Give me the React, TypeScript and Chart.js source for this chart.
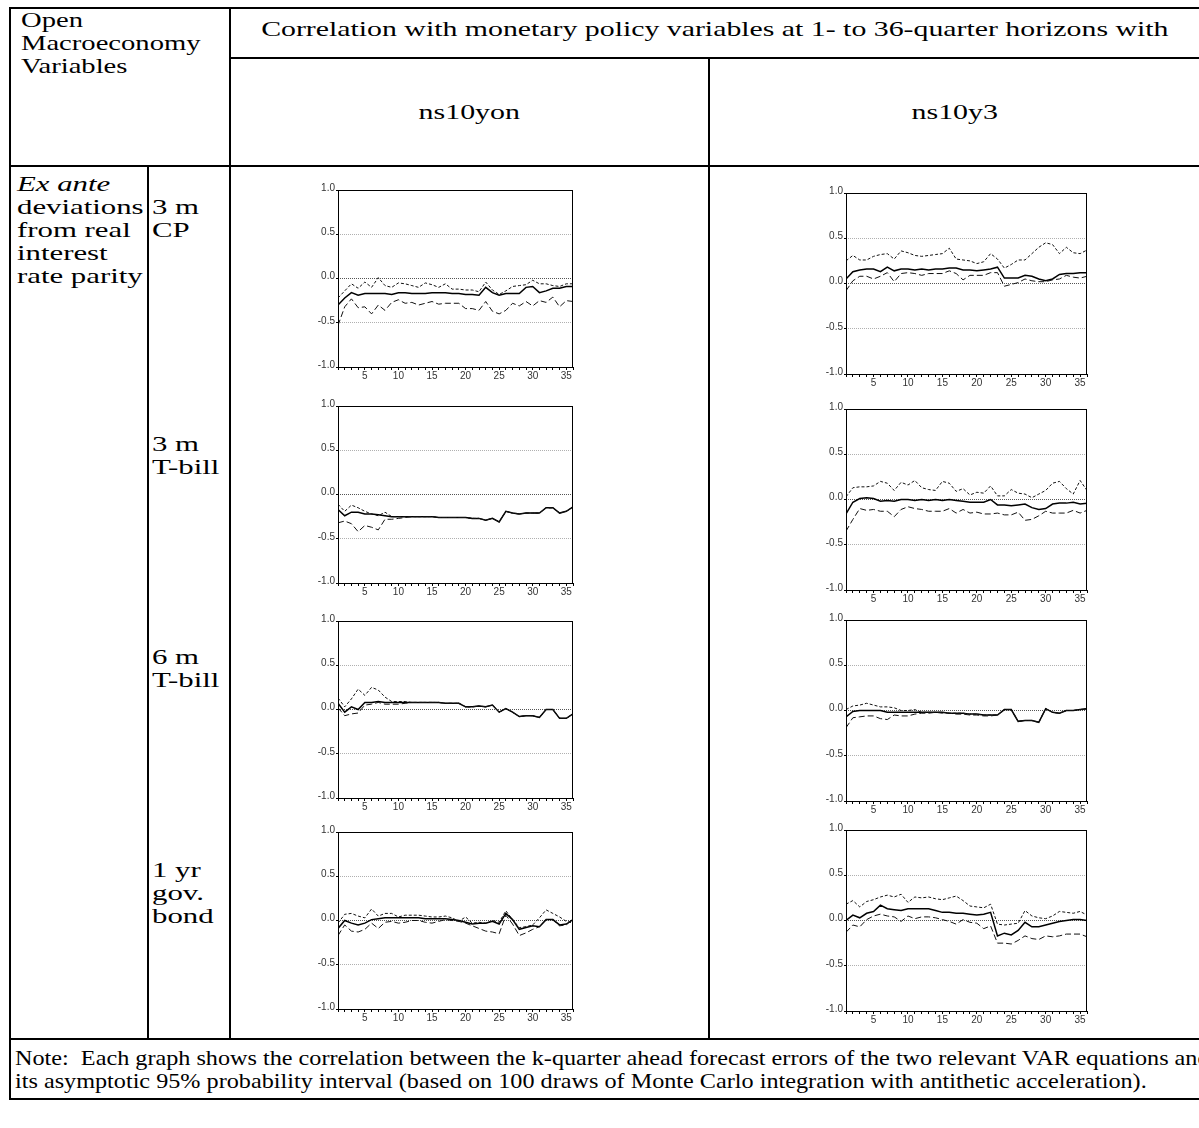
import React, { useEffect, useRef } from "react";
import { Chart, registerables } from "chart.js";

Chart.register(...registerables);

// Forecast horizon (quarters)
const horizons = [1,2,3,4,5,6,7,8,9,10,11,12,13,14,15,16,17,18,19,20,21,22,23,24,25,26,27,28,29,30,31,32,33,34,35,36];
const xTickLabels = [5, 10, 15, 20, 25, 30, 35];
const yTickValues = [-1, -0.5, 0, 0.5, 1];

// ns10yon vs 3 m CP
const cp3_ns10yon_hi = [-0.22,-0.14,-0.06,-0.11,-0.04,-0.10,0.01,-0.08,-0.10,-0.05,-0.06,-0.08,-0.10,-0.05,-0.07,-0.10,-0.06,-0.12,-0.12,-0.13,-0.13,-0.15,-0.04,-0.13,-0.18,-0.14,-0.09,-0.08,-0.07,-0.02,-0.06,-0.06,-0.08,-0.09,-0.06,-0.06];
const cp3_ns10yon_mid = [-0.30,-0.22,-0.16,-0.19,-0.17,-0.17,-0.17,-0.17,-0.18,-0.16,-0.16,-0.17,-0.17,-0.17,-0.16,-0.16,-0.16,-0.17,-0.17,-0.18,-0.18,-0.19,-0.10,-0.16,-0.19,-0.17,-0.17,-0.17,-0.10,-0.09,-0.16,-0.14,-0.11,-0.11,-0.09,-0.09];
const cp3_ns10yon_lo = [-0.53,-0.32,-0.23,-0.33,-0.32,-0.40,-0.30,-0.36,-0.27,-0.24,-0.28,-0.27,-0.30,-0.28,-0.26,-0.29,-0.28,-0.28,-0.28,-0.34,-0.34,-0.36,-0.26,-0.37,-0.40,-0.36,-0.28,-0.31,-0.26,-0.31,-0.25,-0.27,-0.21,-0.32,-0.25,-0.26];

// ns10y3 vs 3 m CP
const cp3_ns10y3_hi = [0.25,0.31,0.26,0.26,0.30,0.32,0.33,0.27,0.36,0.34,0.31,0.30,0.31,0.32,0.33,0.39,0.27,0.26,0.25,0.22,0.24,0.33,0.27,0.17,0.21,0.26,0.26,0.33,0.40,0.45,0.43,0.33,0.40,0.34,0.33,0.37];
const cp3_ns10y3_mid = [0.05,0.13,0.15,0.16,0.16,0.13,0.18,0.14,0.16,0.16,0.15,0.16,0.15,0.16,0.16,0.17,0.17,0.15,0.15,0.14,0.15,0.16,0.18,0.06,0.06,0.06,0.09,0.08,0.05,0.03,0.05,0.10,0.11,0.11,0.12,0.12];
const cp3_ns10y3_lo = [-0.08,0.03,0.08,0.08,0.05,0.08,0.12,0.02,0.11,0.12,0.11,0.09,0.11,0.11,0.11,0.14,0.11,0.04,0.09,0.09,0.09,0.12,0.12,-0.03,-0.01,0.01,0.05,0.03,0.02,0.02,0.04,0.05,0.09,0.07,0.06,0.08];

// ns10yon vs 3 m T-bill
const tb3_ns10yon_hi = [-0.11,-0.19,-0.12,-0.15,-0.19,-0.22,-0.24,-0.20,-0.25,-0.25,-0.25,-0.25,-0.25,-0.25,-0.25,-0.26,-0.26,-0.26,-0.26,-0.26,-0.27,-0.27,-0.29,-0.27,-0.31,-0.19,-0.21,-0.22,-0.21,-0.21,-0.21,-0.15,-0.15,-0.21,-0.19,-0.14];
const tb3_ns10yon_mid = [-0.17,-0.24,-0.20,-0.20,-0.22,-0.22,-0.23,-0.24,-0.25,-0.25,-0.25,-0.25,-0.25,-0.25,-0.25,-0.26,-0.26,-0.26,-0.26,-0.26,-0.27,-0.27,-0.29,-0.27,-0.31,-0.19,-0.21,-0.22,-0.21,-0.21,-0.21,-0.15,-0.15,-0.21,-0.19,-0.14];
const tb3_ns10yon_lo = [-0.32,-0.30,-0.33,-0.42,-0.35,-0.37,-0.40,-0.28,-0.28,-0.27,-0.26,-0.25,-0.25,-0.25,-0.25,-0.26,-0.26,-0.26,-0.26,-0.26,-0.27,-0.27,-0.29,-0.27,-0.31,-0.19,-0.21,-0.22,-0.21,-0.21,-0.21,-0.15,-0.15,-0.21,-0.19,-0.14];

// ns10y3 vs 3 m T-bill
const tb3_ns10y3_hi = [0.03,0.13,0.14,0.14,0.15,0.20,0.18,0.10,0.19,0.16,0.21,0.13,0.11,0.10,0.20,0.18,0.09,0.12,0.05,0.08,0.07,0.15,0.04,0.04,0.11,0.07,0.06,0.02,0.06,0.10,0.18,0.20,0.12,0.06,0.21,0.10];
const tb3_ns10y3_mid = [-0.16,-0.03,0.01,0.02,0.01,-0.02,-0.01,-0.02,0.00,0.00,-0.01,0.00,-0.01,0.00,-0.01,0.00,-0.01,-0.02,-0.03,-0.03,-0.03,0.00,-0.06,-0.06,-0.07,-0.06,-0.05,-0.09,-0.11,-0.10,-0.05,-0.04,-0.04,-0.03,-0.05,-0.04];
const tb3_ns10y3_lo = [-0.35,-0.22,-0.10,-0.12,-0.11,-0.13,-0.13,-0.19,-0.11,-0.08,-0.10,-0.11,-0.13,-0.13,-0.13,-0.10,-0.15,-0.11,-0.15,-0.14,-0.16,-0.16,-0.15,-0.17,-0.17,-0.14,-0.23,-0.22,-0.18,-0.13,-0.15,-0.15,-0.15,-0.12,-0.15,-0.12];

// ns10yon vs 6 m T-bill
const tb6_ns10yon_hi = [0.13,0.03,0.12,0.23,0.16,0.25,0.22,0.14,0.09,0.09,0.09,0.08,0.08,0.08,0.08,0.08,0.07,0.07,0.07,0.03,0.03,0.04,0.03,0.05,-0.03,0.01,-0.03,-0.08,-0.07,-0.07,-0.09,0.00,0.00,-0.10,-0.10,-0.05];
const tb6_ns10yon_mid = [0.07,-0.03,0.03,0.00,0.08,0.08,0.09,0.08,0.08,0.08,0.08,0.08,0.08,0.08,0.08,0.08,0.07,0.07,0.07,0.03,0.03,0.04,0.03,0.05,-0.03,0.01,-0.03,-0.08,-0.07,-0.07,-0.09,0.00,0.00,-0.10,-0.10,-0.05];
const tb6_ns10yon_lo = [0.02,-0.07,-0.05,-0.04,0.05,0.06,0.08,0.06,0.06,0.06,0.07,0.08,0.08,0.08,0.08,0.08,0.07,0.07,0.07,0.03,0.03,0.04,0.03,0.05,-0.03,0.01,-0.03,-0.08,-0.07,-0.07,-0.09,0.00,0.00,-0.10,-0.10,-0.05];

// ns10y3 vs 6 m T-bill
const tb6_ns10y3_hi = [0.01,0.05,0.06,0.08,0.06,0.04,0.04,0.03,0.00,0.00,0.01,-0.02,-0.02,-0.02,-0.02,-0.03,-0.03,-0.03,-0.04,-0.04,-0.05,-0.05,-0.05,0.01,0.01,-0.12,-0.11,-0.11,-0.13,0.02,-0.02,-0.03,0.00,0.00,0.01,0.02];
const tb6_ns10y3_mid = [-0.07,-0.01,0.00,0.00,0.00,0.00,-0.02,-0.02,-0.02,-0.02,-0.02,-0.02,-0.02,-0.02,-0.02,-0.03,-0.03,-0.03,-0.04,-0.04,-0.05,-0.05,-0.05,0.01,0.01,-0.12,-0.11,-0.11,-0.13,0.02,-0.02,-0.03,0.00,0.00,0.01,0.02];
const tb6_ns10y3_lo = [-0.19,-0.08,-0.07,-0.06,-0.06,-0.09,-0.10,-0.05,-0.06,-0.06,-0.04,-0.03,-0.03,-0.02,-0.03,-0.03,-0.04,-0.04,-0.05,-0.05,-0.06,-0.06,-0.05,0.01,0.01,-0.12,-0.11,-0.11,-0.13,0.02,-0.02,-0.03,0.00,0.00,0.01,0.02];

// ns10yon vs 1 yr gov. bond
const gb1_ns10yon_hi = [-0.03,0.07,0.08,0.05,0.03,0.13,0.05,0.08,0.08,0.04,0.06,0.06,0.06,0.05,0.04,0.04,0.05,0.03,-0.01,0.04,-0.03,-0.02,-0.03,0.00,-0.02,0.11,0.01,-0.08,-0.07,-0.05,0.03,0.12,0.08,0.04,-0.01,-0.03];
const gb1_ns10yon_mid = [-0.09,0.00,-0.03,-0.05,-0.03,0.01,0.02,0.03,0.03,0.03,0.03,0.03,0.03,0.02,0.02,0.02,0.02,0.01,0.00,-0.02,-0.04,-0.03,-0.03,-0.01,-0.04,0.08,0.01,-0.10,-0.08,-0.06,-0.07,0.01,0.01,-0.05,-0.04,0.01];
const gb1_ns10yon_lo = [-0.17,-0.05,-0.12,-0.13,-0.10,-0.03,-0.09,-0.02,-0.01,-0.03,-0.02,0.00,0.00,-0.02,-0.03,-0.01,0.01,0.00,-0.01,-0.03,-0.06,-0.09,-0.12,-0.13,-0.15,0.06,-0.04,-0.17,-0.14,-0.10,-0.07,0.01,0.01,-0.06,-0.05,0.02];

// ns10y3 vs 1 yr gov. bond
const gb1_ns10y3_hi = [0.18,0.22,0.15,0.21,0.23,0.26,0.28,0.26,0.29,0.20,0.26,0.25,0.26,0.24,0.23,0.25,0.27,0.22,0.16,0.15,0.14,0.18,-0.04,-0.05,-0.04,-0.03,0.11,0.05,0.03,0.02,0.05,0.10,0.09,0.08,0.10,0.06];
const gb1_ns10y3_mid = [0.00,0.06,0.03,0.08,0.10,0.17,0.13,0.12,0.11,0.13,0.13,0.13,0.13,0.11,0.09,0.09,0.08,0.08,0.07,0.06,0.07,0.09,-0.17,-0.14,-0.16,-0.11,-0.02,-0.07,-0.07,-0.05,-0.03,-0.01,0.00,0.01,0.01,0.00];
const gb1_ns10y3_lo = [-0.13,-0.05,-0.07,0.01,0.05,0.07,0.05,0.04,-0.01,0.05,0.02,0.04,0.04,0.03,0.01,-0.01,-0.04,0.01,-0.02,-0.03,-0.09,-0.06,-0.25,-0.25,-0.26,-0.22,-0.17,-0.20,-0.21,-0.17,-0.18,-0.17,-0.15,-0.15,-0.15,-0.18];

const SERIF = '"Liberation Serif", "Times New Roman", serif';
const SANS = '"Liberation Sans", Arial, sans-serif';
const TEXT_SIZE = 22;

// space reserved around each plot area inside its canvas
const Y_AXIS_W = 32;
const X_AXIS_H = 18;
const PAD_TOP = 8;
const PAD_RIGHT = 8;

const framePlugin = {
  id: "plotFrame",
  afterDraw(chart: any) {
    const { ctx, chartArea: a } = chart;
    ctx.save();
    ctx.strokeStyle = "#000";
    ctx.lineWidth = 1;
    ctx.strokeRect(Math.round(a.left) + 0.5, Math.round(a.top) + 0.5, Math.round(a.right - a.left) - 1, Math.round(a.bottom - a.top));
    ctx.restore();
  },
};

type PanelProps = {
  left: number;
  top: number;
  plotW: number;
  plotH: number;
  hi: number[];
  mid: number[];
  lo: number[];
};

function CorrPanel({ left, top, plotW, plotH, hi, mid, lo }: PanelProps) {
  const ref = useRef<HTMLCanvasElement>(null);
  const w = plotW + Y_AXIS_W + PAD_RIGHT;
  const h = plotH + PAD_TOP + X_AXIS_H;

  useEffect(() => {
    const toPts = (arr: number[]) => horizons.map((k, i) => ({ x: k, y: arr[i] }));
    const tickFont = { family: SANS, size: 10 };
    const chart = new Chart(ref.current as HTMLCanvasElement, {
      type: "line",
      data: {
        datasets: [
          { data: toPts(lo), borderColor: "#111", borderWidth: 1, borderDash: [6, 3], pointRadius: 0, tension: 0, fill: false },
          { data: toPts(hi), borderColor: "#111", borderWidth: 1, borderDash: [3, 2], pointRadius: 0, tension: 0, fill: false },
          { data: toPts(mid), borderColor: "#000", borderWidth: 1.5, pointRadius: 0, tension: 0, fill: false },
        ],
      },
      options: {
        animation: false,
        responsive: false,
        maintainAspectRatio: false,
        devicePixelRatio: 1,
        layout: { padding: { top: PAD_TOP, right: PAD_RIGHT, left: 0, bottom: 0 } },
        plugins: { legend: { display: false }, tooltip: { enabled: false } },
        scales: {
          x: {
            type: "linear",
            min: 1,
            max: 36,
            afterBuildTicks: (s: any) => {
              s.ticks = horizons.map((v) => ({ value: v }));
            },
            afterFit: (s: any) => {
              s.height = X_AXIS_H;
            },
            ticks: {
              autoSkip: false,
              maxRotation: 0,
              padding: 0,
              font: tickFont,
              color: "#333",
              callback: (v: any) => (xTickLabels.includes(Number(v)) ? String(v) : ""),
            },
            grid: { drawOnChartArea: false, drawTicks: true, tickLength: 3, tickColor: "#000", color: "#000" },
            border: { display: false },
          },
          y: {
            min: -1,
            max: 1,
            afterBuildTicks: (s: any) => {
              s.ticks = yTickValues.map((v) => ({ value: v }));
            },
            afterFit: (s: any) => {
              s.width = Y_AXIS_W;
            },
            ticks: {
              padding: 1,
              labelOffset: -2,
              font: tickFont,
              color: "#333",
              callback: (v: any) => Number(v).toFixed(1),
            },
            grid: {
              drawTicks: true,
              tickLength: 2,
              tickColor: "#000",
              lineWidth: 1,
              color: (c: any) => {
                const v = c.tick ? c.tick.value : null;
                if (v === 0) return "#555";
                if (v === 0.5 || v === -0.5) return "#b0b0b0";
                return "rgba(0,0,0,0)";
              },
            },
            border: { display: false, dash: [1, 1] },
          },
        },
      },
      plugins: [framePlugin],
    } as any);
    return () => chart.destroy();
  }, []);

  return (
    <canvas
      ref={ref}
      width={w}
      height={h}
      style={{ position: "absolute", left: left - Y_AXIS_W, top: top - PAD_TOP, width: w, height: h }}
    />
  );
}

function Rule({ x, y, w, h }: { x: number; y: number; w: number; h: number }) {
  return <div style={{ position: "absolute", left: x, top: y, width: w, height: h, background: "#000" }} />;
}

function Txt({
  x,
  y,
  children,
  sx = 1.4,
  italic = false,
}: {
  x: number;
  y: number;
  children: React.ReactNode;
  sx?: number;
  italic?: boolean;
}) {
  return (
    <div
      style={{
        position: "absolute",
        left: x,
        top: y,
        fontFamily: SERIF,
        fontSize: TEXT_SIZE,
        lineHeight: "23px",
        whiteSpace: "pre",
        fontStyle: italic ? "italic" : "normal",
        transform: `scaleX(${sx})`,
        transformOrigin: "left top",
        color: "#000",
      }}
    >
      {children}
    </div>
  );
}

function CenterTxt({ x0, x1, y, children, sx = 1.36 }: { x0: number; x1: number; y: number; children: React.ReactNode; sx?: number }) {
  return (
    <div
      style={{
        position: "absolute",
        left: x0,
        top: y,
        width: x1 - x0,
        textAlign: "center",
        fontFamily: SERIF,
        fontSize: TEXT_SIZE,
        lineHeight: "23px",
        whiteSpace: "pre",
        color: "#000",
      }}
    >
      <span style={{ display: "inline-block", transform: `scaleX(${sx})`, transformOrigin: "center top" }}>{children}</span>
    </div>
  );
}

// plot-area geometry of the two chart columns
const LEFT_COL = { left: 338, plotW: 235 };
const RIGHT_COL = { left: 846, plotW: 241 };
const LEFT_TOPS = [190, 406, 621, 832];
const RIGHT_TOPS = [193, 409, 620, 830];

export default function App() {
  const rowsLeft = [
    { hi: cp3_ns10yon_hi, mid: cp3_ns10yon_mid, lo: cp3_ns10yon_lo },
    { hi: tb3_ns10yon_hi, mid: tb3_ns10yon_mid, lo: tb3_ns10yon_lo },
    { hi: tb6_ns10yon_hi, mid: tb6_ns10yon_mid, lo: tb6_ns10yon_lo },
    { hi: gb1_ns10yon_hi, mid: gb1_ns10yon_mid, lo: gb1_ns10yon_lo },
  ];
  const rowsRight = [
    { hi: cp3_ns10y3_hi, mid: cp3_ns10y3_mid, lo: cp3_ns10y3_lo },
    { hi: tb3_ns10y3_hi, mid: tb3_ns10y3_mid, lo: tb3_ns10y3_lo },
    { hi: tb6_ns10y3_hi, mid: tb6_ns10y3_mid, lo: tb6_ns10y3_lo },
    { hi: gb1_ns10y3_hi, mid: gb1_ns10y3_mid, lo: gb1_ns10y3_lo },
  ];

  return (
    <div style={{ position: "absolute", left: 0, top: 0, width: 1199, height: 1128, overflow: "hidden", background: "#fff" }}>
      {/* table rules */}
      <Rule x={9} y={7} w={1200} h={2} />
      <Rule x={9} y={7} w={2} h={1093} />
      <Rule x={229} y={7} w={2} h={1033} />
      <Rule x={229} y={57} w={1000} h={2} />
      <Rule x={9} y={165} w={1200} h={2} />
      <Rule x={147} y={165} w={2} h={875} />
      <Rule x={708} y={57} w={2} h={983} />
      <Rule x={9} y={1038} w={1200} h={2} />
      <Rule x={9} y={1098} w={1200} h={2} />

      {/* header text */}
      <Txt x={21} y={8} sx={1.3}>{"Open\nMacroeconomy\nVariables"}</Txt>
      <CenterTxt x0={231} x1={1199} y={17} sx={1.355}>
        Correlation with monetary policy variables at 1- to 36-quarter horizons with
      </CenterTxt>
      <CenterTxt x0={231} x1={708} y={100}>ns10yon</CenterTxt>
      <CenterTxt x0={710} x1={1199} y={100}>ns10y3</CenterTxt>

      {/* row labels */}
      <Txt x={17} y={172} italic>Ex ante</Txt>
      <Txt x={17} y={195}>{"deviations\nfrom real\ninterest\nrate parity"}</Txt>
      <Txt x={152} y={195}>{"3 m\nCP"}</Txt>
      <Txt x={152} y={432}>{"3 m\nT-bill"}</Txt>
      <Txt x={152} y={645}>{"6 m\nT-bill"}</Txt>
      <Txt x={152} y={858}>{"1 yr\ngov.\nbond"}</Txt>

      {/* charts */}
      {rowsLeft.map((r, i) => (
        <CorrPanel key={"l" + i} left={LEFT_COL.left} top={LEFT_TOPS[i]} plotW={LEFT_COL.plotW} plotH={177} hi={r.hi} mid={r.mid} lo={r.lo} />
      ))}
      {rowsRight.map((r, i) => (
        <CorrPanel key={"r" + i} left={RIGHT_COL.left} top={RIGHT_TOPS[i]} plotW={RIGHT_COL.plotW} plotH={181} hi={r.hi} mid={r.mid} lo={r.lo} />
      ))}

      {/* note */}
      <Txt x={15} y={1046} sx={1.1}>
        {"Note:  Each graph shows the correlation between the k-quarter ahead forecast errors of the two relevant VAR equations and\nits asymptotic 95% probability interval (based on 100 draws of Monte Carlo integration with antithetic acceleration)."}
      </Txt>
    </div>
  );
}
